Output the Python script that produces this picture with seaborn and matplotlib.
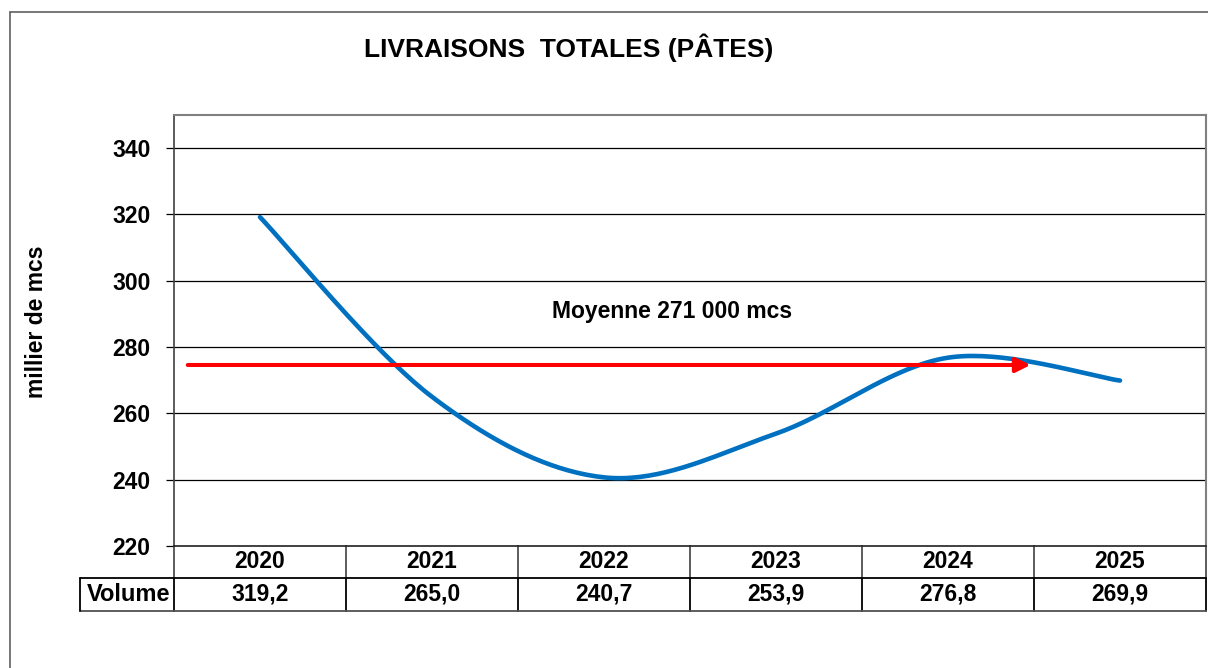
import numpy as np
import pandas as pd
import matplotlib
matplotlib.use("Agg")
import matplotlib.pyplot as plt
from matplotlib.lines import Line2D
import seaborn as sns

# ---- data ----
years = ["2020", "2021", "2022", "2023", "2024", "2025"]
volumes = [319.2, 265.0, 240.7, 253.9, 276.8, 269.9]
volume_labels = ["319,2", "265,0", "240,7", "253,9", "276,8", "269,9"]
y_ticks = [220, 240, 260, 280, 300, 320, 340]
mean_level = 274.6
title = "LIVRAISONS  TOTALES (PÂTES)"
ylabel = "millier de mcs"
note = "Moyenne 271 000 mcs"
row_label = "Volume"

sns.set_theme(style="white")
plt.rcParams["font.family"] = ["Liberation Sans", "DejaVu Sans"]
plt.rcParams["font.weight"] = "bold"
plt.rcParams["text.color"] = "black"
plt.rcParams["ytick.color"] = "black"
plt.rcParams["ytick.labelcolor"] = "black"

W, H = 1208, 668
fig = plt.figure(figsize=(W / 100, H / 100), dpi=100)
ax = fig.add_axes([174 / W, 1 - 546 / H, 1032 / W, 431 / H])


def smooth(xs, ys, n=40):
    # Excel-like smoothed line (cubic Bezier with Catmull-Rom control points)
    P = np.column_stack([xs, ys]).astype(float)
    ext = np.vstack([P[0], P, P[-1]])
    out = []
    t = np.linspace(0, 1, n)[:, None]
    for i in range(len(P) - 1):
        p0, p3 = ext[i + 1], ext[i + 2]
        c1 = p0 + (ext[i + 2] - ext[i]) / 6
        c2 = p3 - (ext[i + 3] - ext[i + 1]) / 6
        seg = ((1 - t) ** 3) * p0 + 3 * ((1 - t) ** 2) * t * c1 + 3 * (1 - t) * t ** 2 * c2 + t ** 3 * p3
        out.append(seg if i == 0 else seg[1:])
    return np.vstack(out)


curve = smooth(np.arange(len(years)), volumes)
df = pd.DataFrame({"x": curve[:, 0], "v": curve[:, 1]})
sns.lineplot(data=df, x="x", y="v", ax=ax, color="#0070C0", linewidth=3.3,
             sort=False, estimator=None, solid_capstyle="round")

FS = 16.5
ax.set_xlim(-0.5, len(years) - 0.5)
ax.set_ylim(220, 350)
ax.set_yticks(y_ticks)
ax.set_yticklabels([str(v) for v in y_ticks], fontsize=FS, fontweight="bold",
                   color="black")
ax.set_xticks([])
ax.set_xlabel("")
ax.set_ylabel("")
for yv in y_ticks[1:]:
    ax.axhline(yv, color="black", linewidth=0.9, zorder=1)
ax.tick_params(axis="y", which="both", left=True, length=6, width=0.9,
               color="black", pad=11)
for s in ["top", "right"]:
    ax.spines[s].set_color("#808080")
    ax.spines[s].set_linewidth(1.5)
ax.spines["left"].set_color("#404040")
ax.spines["left"].set_linewidth(1.2)
ax.spines["bottom"].set_color("#202020")
ax.spines["bottom"].set_linewidth(1.2)

# mean arrow
ax.annotate("", xy=(4.48, mean_level), xytext=(-0.42, mean_level),
            arrowprops=dict(arrowstyle="-|>", color="#FF0000", lw=2.9,
                            mutation_scale=22, shrinkA=0, shrinkB=0), zorder=4)
ax.text(2.395, 290.6, note, ha="center", va="center", fontsize=FS,
        fontweight="bold", color="black")

# data table below the axes
trans = ax.get_xaxis_transform()
r1 = -32 / 431
r2 = -65 / 431
n = len(years)
for i, (yr, lab) in enumerate(zip(years, volume_labels)):
    ax.text(i, (0 + r1) / 2, yr, transform=trans, ha="center", va="center",
            fontsize=FS, fontweight="bold", clip_on=False, color="black")
    ax.text(i, (r1 + r2) / 2, lab, transform=trans, ha="center", va="center",
            fontsize=FS, fontweight="bold", clip_on=False, color="black")
ax.text(-0.5 - 0.02, (r1 + r2) / 2, row_label, transform=trans, ha="right",
        va="center", fontsize=FS + 0.5, fontweight="bold", clip_on=False,
        color="black")
for i in range(n + 1):
    xb = i - 0.5
    ax.add_line(Line2D([xb, xb], [0, r1], transform=trans, color="#505050",
                       lw=1.3, clip_on=False))
    ax.add_line(Line2D([xb, xb], [r1, r2], transform=trans, color="black",
                       lw=1.3, clip_on=False))
xl = -0.5 - 94 / 172
ax.add_line(Line2D([xl, n - 0.5], [r1, r1], transform=trans, color="black",
                   lw=1.3, clip_on=False))
ax.add_line(Line2D([xl, n - 0.5], [r2, r2], transform=trans, color="#505050",
                   lw=1.3, clip_on=False))
ax.add_line(Line2D([xl, xl], [r1, r2], transform=trans, color="black",
                   lw=1.3, clip_on=False))

# titles
fig.text(569 / W, 1 - 48 / H, title, ha="center", va="center", fontsize=19,
         fontweight="bold", color="black")
fig.text(37 / W, 1 - 322 / H, ylabel, ha="center", va="center", fontsize=FS,
         fontweight="bold", rotation=90, color="black")

# outer chart frame
fig.add_artist(Line2D([10 / W, 10 / W], [0, 1 - 12 / H], transform=fig.transFigure,
                      color="#606060", lw=1.2))
fig.add_artist(Line2D([10 / W, 1], [1 - 12 / H, 1 - 12 / H], transform=fig.transFigure,
                      color="#606060", lw=1.2))

fig.savefig("out.png", dpi=100, facecolor="white")
